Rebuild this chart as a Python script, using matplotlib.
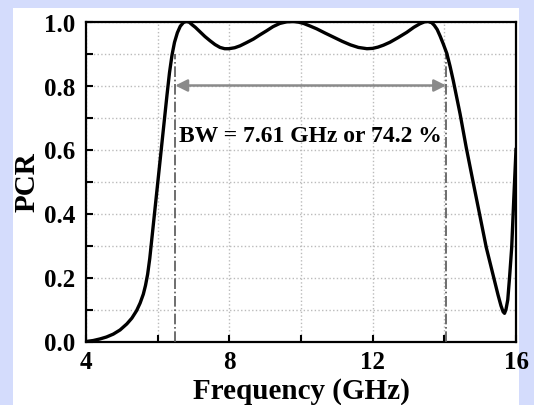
import numpy as np
import matplotlib.pyplot as plt
from matplotlib.patches import Rectangle

# PCR curve
freq = [4.0, 4.2, 4.39, 4.57, 4.76, 4.95, 5.14, 5.28, 5.41, 5.51, 5.60, 5.66,
        5.72, 5.78, 5.86, 5.94, 6.02, 6.10, 6.18, 6.26, 6.33, 6.40, 6.47, 6.55,
        6.63, 6.72, 6.80, 6.88, 6.96, 7.05, 7.18, 7.32, 7.46, 7.60, 7.74, 7.87,
        7.99, 8.15, 8.30, 8.48, 8.67, 8.85, 9.04, 9.22, 9.41, 9.60, 9.79, 9.93,
        10.07, 10.25, 10.44, 10.67, 10.91, 11.15, 11.38, 11.60, 11.84, 12.00,
        12.15, 12.30, 12.48, 12.70, 12.95, 13.15, 13.32, 13.45, 13.55, 13.65,
        13.72, 13.80, 13.88, 13.97, 14.07, 14.16, 14.25, 14.44, 14.61, 14.80,
        14.98, 15.17, 15.40, 15.50, 15.58, 15.64, 15.68, 15.72, 15.77, 15.82,
        15.88, 15.94, 16.0]
pcr = [0.0, 0.003, 0.008, 0.014, 0.023, 0.036, 0.055, 0.073, 0.096, 0.12, 0.148,
       0.175, 0.21, 0.26, 0.345, 0.43, 0.515, 0.60, 0.685, 0.77, 0.84, 0.895,
       0.935, 0.965, 0.985, 0.997, 1.0, 0.998, 0.99, 0.982, 0.968, 0.953, 0.94,
       0.928, 0.919, 0.915, 0.915, 0.918, 0.924, 0.934, 0.945, 0.958, 0.971,
       0.984, 0.994, 0.999, 1.0, 0.998, 0.994, 0.986, 0.977, 0.964, 0.951,
       0.938, 0.927, 0.919, 0.915, 0.916, 0.92, 0.926, 0.935, 0.949, 0.966,
       0.982, 0.993, 0.999, 1.0, 0.996, 0.988, 0.975, 0.955, 0.93, 0.9, 0.86,
       0.815, 0.711, 0.607, 0.5, 0.4, 0.294, 0.19, 0.145, 0.112, 0.093, 0.088,
       0.1, 0.13, 0.2, 0.294, 0.45, 0.6]

bw_lo, bw_hi = 6.49, 14.05
bw_text = "BW = 7.61 GHz or 74.2 %"

plt.rcParams['font.family'] = 'Liberation Serif'
plt.rcParams['font.weight'] = 'bold'

fig = plt.figure(figsize=(5.34, 4.06), dpi=100)
fig.patch.set_facecolor('#d4dcfc')
fig.patches.append(Rectangle((13/534, 0), 506/534, 397/406, transform=fig.transFigure,
                             facecolor='white', edgecolor='none', zorder=-10))

ax = fig.add_axes([86/534, 63.5/406, 430/534, 320/406])
ax.set_zorder(1)
ax.plot(freq, pcr, color='black', lw=2.4, zorder=4, solid_joinstyle='round')

# bandwidth markers
for xv in (bw_lo, bw_hi):
    ax.plot([xv, xv], [0, 0.9], color='#555555', lw=1.2, ls='-.', zorder=3)
ax.annotate('', xy=(bw_lo, 0.8), xytext=(bw_hi, 0.8),
            arrowprops=dict(arrowstyle='<|-|>', color='#8a8a8a', lw=1.8,
                            mutation_scale=18, shrinkA=0, shrinkB=0), zorder=3)
ax.text(6.6, 0.643, bw_text, fontsize=17, fontweight='bold', va='center', ha='left')

ax.set_xlim(4, 16)
ax.set_ylim(0, 1)
ax.set_xticks([4, 8, 12, 16])
ax.set_xticks([6, 10, 14], minor=True)
ax.set_yticks(np.arange(0, 1.01, 0.2))
ax.set_yticks(np.arange(0.1, 1.0, 0.2), minor=True)
ax.set_yticklabels(['0.0', '0.2', '0.4', '0.6', '0.8', '1.0'])
ax.grid(True, which='both', color='#bbbbbb', ls=':', lw=1.0)
ax.tick_params(which='both', direction='in', length=5, width=1.5, labelsize=18, pad=8)
ax.tick_params(axis='x', pad=6)
for s in ax.spines.values():
    s.set_linewidth(1.6)

ax.set_xlabel('Frequency (GHz)', fontsize=21, fontweight='bold', labelpad=3)
ax.set_ylabel('PCR', fontsize=21, fontweight='bold', labelpad=2)

fig.savefig('out.png', dpi=100, facecolor=fig.get_facecolor())
